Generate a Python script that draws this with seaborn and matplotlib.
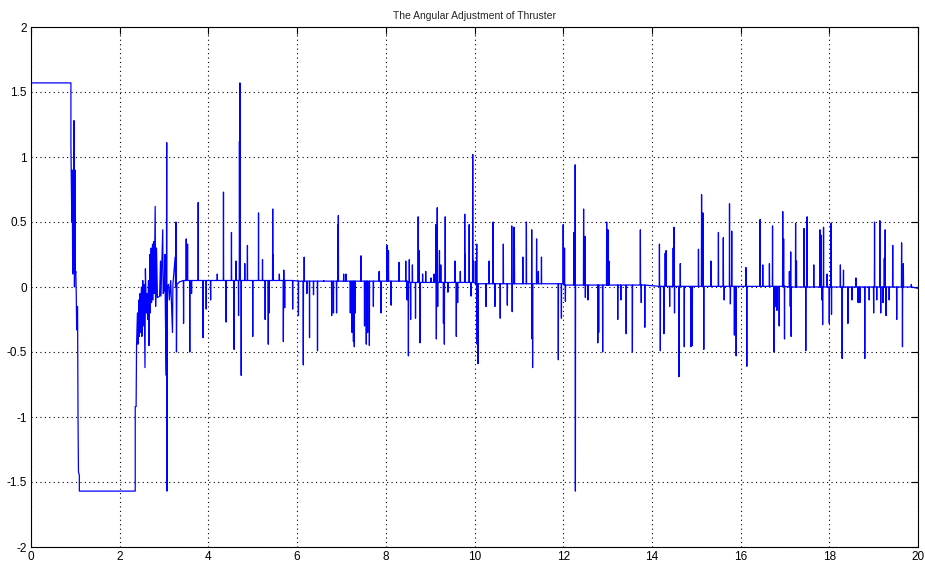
import numpy as np
import pandas as pd
import matplotlib
matplotlib.use("Agg")
import matplotlib.pyplot as plt
import seaborn as sns

# transient part: explicit vertices (time [s], angle [rad])
tr_t = [0.0, 0.90, 0.90, 0.92, 0.93, 0.94, 0.95, 0.96, 0.97, 0.98, 0.99, 1.00, 1.01, 1.02,
        1.03, 1.04, 1.05, 1.06, 1.07, 1.09, 1.09, 2.35, 2.35, 2.37, 2.38,
        2.40, 2.41, 2.43, 2.44, 2.46, 2.47, 2.49, 2.50, 2.52, 2.53, 2.55, 2.57, 2.58, 2.60,
        2.62, 2.63, 2.65, 2.66, 2.68, 2.69, 2.71, 2.72, 2.74, 2.75, 2.77, 2.78, 2.80, 2.81,
        2.83, 2.85, 2.86, 2.90, 2.92, 2.93, 2.97, 2.98, 3.00, 3.02, 3.03, 3.05, 3.06, 3.065,
        3.07, 3.10, 3.12, 3.15, 3.19, 3.20, 3.25, 3.26, 3.27, 3.28, 3.29, 3.35]
tr_v = [1.57, 1.57, 1.10, 0.50, 0.90, 0.10, 0.70, 0.12, 1.28, 0.00, 0.90, 0.10, 0.12, -0.05,
        -0.33, -0.15, -0.15, -1.00, -1.42, -1.45, -1.57, -1.57, -0.92, -0.92, -0.45,
        -0.20, -0.44, -0.10, -0.38, -0.05, -0.35, 0.00, -0.38, 0.05, -0.30, 0.02, -0.62, 0.14, -0.20,
        -0.05, -0.25, 0.05, -0.45, 0.25, -0.20, 0.30, -0.12, 0.33, -0.10, 0.35, -0.05, 0.62, -0.15,
        0.30, -0.08, -0.08, -0.07, 0.20, -0.07, 0.44, -0.05, -0.03, 0.25, -0.20, -0.68, 1.11, -1.57,
        0.00, 0.02, -0.10, 0.05, -0.35, 0.02, 0.23, 0.00, 0.50, -0.50, 0.02, 0.04]

# spikes after the transient (time, peak value)
spike_t = [3.44, 3.50, 3.53, 3.58, 3.62, 3.77, 3.88, 3.95, 4.05, 4.20, 4.34, 4.40, 4.52, 4.58,
           4.62, 4.68, 4.70, 4.71, 4.74, 4.82, 4.88, 5.00, 5.13, 5.22, 5.28, 5.35, 5.37, 5.45,
           5.46, 5.60, 5.69, 5.70, 5.72, 5.90, 6.03, 6.14, 6.16, 6.22, 6.28, 6.37, 6.46, 6.60,
           6.78, 6.82, 6.89, 6.92, 6.93, 7.05, 7.10, 7.20, 7.24, 7.27, 7.29, 7.31, 7.44, 7.52,
           7.56, 7.59, 7.63, 7.72, 7.85, 7.89, 8.03, 8.06, 8.12, 8.30, 8.45, 8.48, 8.51, 8.53,
           8.56, 8.60, 8.67, 8.73, 8.75, 8.77, 8.83, 8.90, 9.02, 9.09, 9.13, 9.14, 9.16, 9.17,
           9.21, 9.24, 9.30, 9.32, 9.34, 9.40, 9.56, 9.59, 9.62, 9.68, 9.78, 9.79, 9.88, 9.92,
           9.96, 9.98, 10.03, 10.05, 10.06, 10.08, 10.26, 10.33, 10.42, 10.46, 10.58, 10.65,
           10.74, 10.84, 10.85, 10.89, 10.90, 11.09, 11.17, 11.29, 11.30, 11.31, 11.40, 11.44,
           11.51, 11.89, 11.96, 12.00, 12.03, 12.05, 12.24, 12.27, 12.275, 12.46, 12.49, 12.50,
           12.56, 12.78, 12.80, 12.89, 12.98, 13.00, 13.01, 13.03, 13.23, 13.30, 13.42, 13.56,
           13.74, 13.76, 13.84, 14.17, 14.19, 14.27, 14.30, 14.32, 14.40, 14.48, 14.50, 14.51,
           14.61, 14.64, 14.73, 14.88, 14.91, 15.05, 15.12, 15.15, 15.17, 15.33, 15.50, 15.61,
           15.63, 15.75, 15.77, 15.80, 15.86, 15.88, 15.90, 16.12, 16.14, 16.44, 16.50, 16.65,
           16.72, 16.75, 16.79, 16.82, 16.87, 16.95, 16.97, 16.99, 17.10, 17.12, 17.13, 17.14,
           17.24, 17.26, 17.43, 17.47, 17.50, 17.65, 17.79, 17.81, 17.83, 17.85, 17.87, 17.95,
           18.00, 18.04, 18.05, 18.25, 18.29, 18.32, 18.42, 18.51, 18.60, 18.65, 18.69, 18.80,
           18.90, 19.00, 19.02, 19.07, 19.14, 19.16, 19.21, 19.24, 19.26, 19.28, 19.35, 19.43,
           19.52, 19.63, 19.65, 19.67, 19.85]
spike_v = [-0.28, 0.37, 0.33, -0.50, -0.05, 0.65, -0.39, -0.17, -0.10, 0.10, 0.73, -0.27, 0.42, -0.48,
           0.20, -0.22, 1.12, 1.57, -0.68, 0.18, 0.32, -0.38, 0.57, 0.21, -0.25, -0.44, -0.20, 0.60,
           0.25, 0.10, -0.42, 0.13, -0.16, -0.17, -0.22, -0.60, 0.23, -0.05, -0.39, -0.06, -0.49, 0.05,
           -0.22, -0.20, -0.20, 0.48, 0.55, 0.10, 0.10, -0.20, -0.35, -0.42, -0.46, -0.20, 0.24, -0.30,
           -0.44, -0.35, -0.45, -0.15, 0.12, -0.20, 0.32, 0.28, -0.14, 0.19, 0.20, -0.10, -0.53, 0.21,
           -0.25, 0.17, -0.24, 0.54, 0.28, -0.43, 0.10, 0.12, 0.07, 0.10, 0.48, -0.40, 0.61, -0.15,
           0.28, 0.17, -0.28, -0.44, 0.54, -0.04, 0.20, -0.38, -0.12, 0.12, 0.56, 0.25, 0.48, -0.07,
           1.02, 0.20, 0.20, 0.33, -0.44, -0.59, -0.15, 0.20, 0.50, -0.15, -0.24, 0.33,
           -0.14, 0.47, -0.19, 0.46, 0.30, 0.23, 0.50, 0.44, -0.40, -0.62, 0.37, 0.12,
           0.23, -0.56, -0.24, 0.48, 0.30, -0.11, 0.42, 0.94, -1.57, 0.60, 0.39, -0.08,
           -0.10, -0.43, -0.35, -0.50, 0.50, 0.43, 0.44, 0.20, -0.25, -0.10, -0.36, -0.50,
           0.44, -0.12, -0.31, 0.33, -0.49, -0.36, 0.26, 0.28, -0.15, 0.30, 0.46, -0.20,
           -0.69, 0.18, -0.46, -0.46, -0.45, 0.29, 0.71, 0.57, -0.48, 0.20, 0.42, 0.38,
           -0.10, 0.64, -0.13, 0.43, -0.37, -0.27, -0.53, 0.15, -0.61, 0.52, 0.17, 0.18,
           0.47, -0.50, -0.15, -0.18, -0.30, 0.58, 0.37, -0.40, 0.12, -0.15, 0.27, -0.38,
           0.49, 0.20, 0.45, -0.49, 0.54, 0.17, 0.44, 0.40, -0.10, -0.29, 0.46, 0.10,
           -0.28, 0.49, -0.21, 0.17, -0.55, 0.13, -0.28, -0.10, 0.07, -0.12, -0.12, -0.55,
           -0.10, -0.20, 0.50, -0.10, 0.51, -0.20, -0.12, 0.22, 0.44, -0.22, -0.10, 0.32,
           -0.25, 0.34, -0.46, 0.18, 0.02]

# slowly drifting baseline level between spikes
base_edges = [3.3, 6.0, 8.5, 10.0, 12.0, 14.0, 17.0, 20.01]
base_levels = [0.05, 0.045, 0.035, 0.025, 0.015, 0.005, 0.0]

# build the polyline
xs = list(tr_t)
ys = list(tr_v)
for t, v in zip(spike_t, spike_v):
    b = base_levels[np.searchsorted(base_edges, t) - 1]
    xs += [t - 0.004, t, t + 0.004]
    ys += [b, v, b]
xs.append(20.0)
ys.append(-0.01)
df = pd.DataFrame({"t": xs, "angle": ys})

sns.set_style("white")
plt.rcParams['font.family'] = ['Liberation Sans', 'DejaVu Sans']
plt.rcParams['axes.unicode_minus'] = False

fig = plt.figure(figsize=(9.25, 5.68), dpi=100)
ax = fig.add_axes([31/925, 1 - 547/568, 887/925, 520/568])
sns.lineplot(data=df, x="t", y="angle", sort=False, estimator=None,
             color="#0000FF", linewidth=0.9, ax=ax)

ax.set_xlim(0, 20)
ax.set_ylim(-2, 2)
ax.set_xticks(np.arange(0, 21, 2))
ax.set_yticks(np.arange(-2, 2.01, 0.5))
ax.set_xticklabels([str(int(v)) for v in np.arange(0, 21, 2)])
ax.set_yticklabels(["-2", "-1.5", "-1", "-0.5", "0", "0.5", "1", "1.5", "2"])
ax.tick_params(direction="in", top=True, right=True, length=5, width=0.8,
               labelsize=8.5, pad=3, colors="black")
ax.grid(True, linestyle=(0, (1, 3)), color="black", linewidth=0.8)
for s in ax.spines.values():
    s.set_color("black")
    s.set_linewidth(0.8)
ax.set_xlabel("")
ax.set_ylabel("")
ax.set_title("The Angular Adjustment of Thruster", fontsize=7.5, pad=6)

fig.savefig("out.png", dpi=100)
